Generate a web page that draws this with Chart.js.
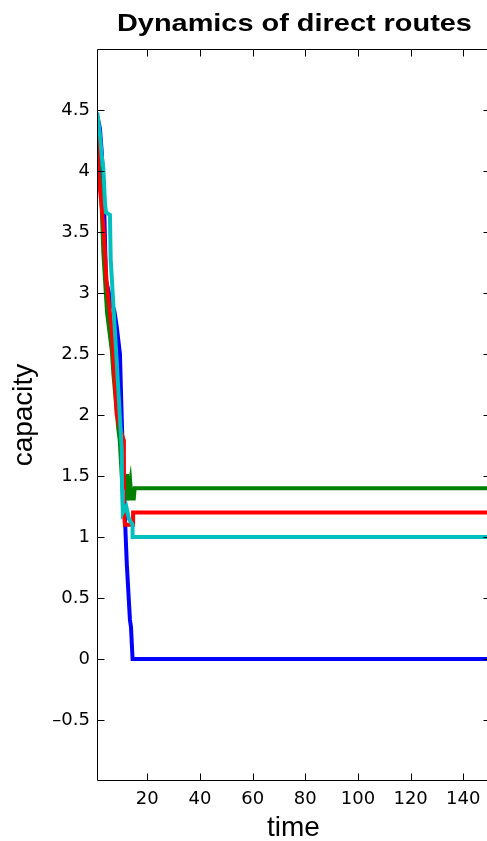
<!DOCTYPE html>
<html><head><meta charset="utf-8">
<script src="https://cdn.jsdelivr.net/npm/chart.js@4/dist/chart.umd.min.js"></script>
<style>
html,body{margin:0;padding:0;background:#fff;overflow:hidden;}
#wrap{position:relative;width:487px;height:841px;overflow:hidden;background:#fff;}
canvas{display:block;}
</style></head><body>
<div id="wrap"><canvas id="c" width="495" height="841"></canvas></div>
<script>
const titleText = 'Dynamics of direct routes';
const xTitle = 'time';
const yTitle = 'capacity';
const xTickValues = [20, 40, 60, 80, 100, 120, 140];
const yTickValues = [-0.5, 0, 0.5, 1, 1.5, 2, 2.5, 3, 3.5, 4, 4.5];

const blueTime = [1, 2, 2.7, 3.5, 4.3, 6, 7.5, 8.4, 9.6, 10.3, 11, 11.6, 12.2, 13.4, 13.8, 14.4, 150];
const blueCap  = [4.45, 4.35, 4.15, 3.8, 3.1, 2.95, 2.85, 2.72, 2.5, 1.95, 1.5, 1.1, 0.78, 0.32, 0.26, 0, 0];

const greenTime = [1, 1.3, 2.5, 3.3, 4.7, 6.5, 7.1, 9, 9.5, 10.3, 12.3, 12.4, 13.5, 14, 14.3, 14.8, 15.2, 150];
const greenCap  = [4.4, 4.1, 3.8, 3.33, 2.84, 2.53, 2.34, 1.88, 1.8, 1.5, 1.5, 1.3, 1.45, 1.3, 1.4, 1.3, 1.4, 1.4];

const redTime = [1, 1.3, 2.8, 3.3, 4.5, 5.5, 6.5, 7.7, 8.4, 9.5, 10.9, 11.1, 11.5, 14.6, 14.6, 150];
const redCap  = [4.3, 4.0, 3.68, 3.55, 3.1, 2.9, 2.7, 2.26, 2.0, 1.9, 1.8, 1.2, 1.1, 1.1, 1.2, 1.2];

const cyanTime = [1, 2, 2.7, 3.3, 3.9, 4.3, 5.8, 6.1, 8.2, 10.3, 10.4, 10.7, 12, 13, 14.4, 14.4, 150];
const cyanCap  = [4.48, 4.3, 4.12, 4.02, 3.74, 3.66, 3.64, 3.27, 2.5, 1.71, 1.39, 1.2, 1.25, 1.15, 1.1, 1.0, 1.0];

function pts(ts, vs) { return ts.map((t, i) => ({x: t, y: vs[i]})); }

const framePlugin = {
  id: 'frame',
  afterDraw(chart) {
    const {ctx, chartArea: ca, scales} = chart;
    const L = Math.round(ca.left) + 0.5, R = Math.round(ca.right) + 0.5;
    const T = Math.round(ca.top) + 0.5, B = Math.round(ca.bottom) - 0.5;
    ctx.save();
    ctx.strokeStyle = '#000';
    ctx.lineWidth = 1;
    ctx.beginPath();
    ctx.rect(L, T, R - L, B - T);
    const tl = 7;
    xTickValues.forEach(v => {
      const x = Math.round(scales.x.getPixelForValue(v)) + 0.5;
      ctx.moveTo(x, B); ctx.lineTo(x, B - tl);
      ctx.moveTo(x, T); ctx.lineTo(x, T + tl);
    });
    yTickValues.forEach(v => {
      const y = Math.round(scales.y.getPixelForValue(v)) + 0.5;
      ctx.moveTo(L, y); ctx.lineTo(L + tl, y);
      ctx.moveTo(R, y); ctx.lineTo(R - tl, y);
    });
    ctx.stroke();
    // title
    ctx.font = 'bold 24px "Liberation Sans", Arial, sans-serif';
    const w = ctx.measureText(titleText).width;
    const target = 355;
    ctx.translate((ca.left + ca.right) / 2 + 1, 31);
    ctx.scale(target / w, 1);
    ctx.fillStyle = '#000';
    ctx.textAlign = 'center';
    ctx.textBaseline = 'alphabetic';
    ctx.fillText(titleText, 0, 0);
    ctx.restore();
  }
};

const tickFont = {family: '"DejaVu Sans", sans-serif', size: 18};
const titleFont = {family: '"Liberation Sans", Arial, sans-serif', size: 28, lineHeight: 0.9};

new Chart(document.getElementById('c'), {
  type: 'line',
  data: {
    datasets: [
      {label: 'blue', data: pts(blueTime, blueCap), borderColor: '#0000ff', order: 3},
      {label: 'green', data: pts(greenTime, greenCap), borderColor: '#008000', order: 2},
      {label: 'red', data: pts(redTime, redCap), borderColor: '#ff0000', order: 1},
      {label: 'cyan', data: pts(cyanTime, cyanCap), borderColor: '#00bfbf', order: 0}
    ]
  },
  options: {
    responsive: false,
    devicePixelRatio: 1,
    animation: false,
    events: [],
    elements: {
      line: {borderWidth: 4, tension: 0, fill: false, borderJoinStyle: 'miter', borderCapStyle: 'butt'},
      point: {radius: 0}
    },
    layout: {padding: {left: 0, right: 5.4, top: 49, bottom: 0}},
    plugins: {legend: {display: false}, tooltip: {enabled: false}, title: {display: false}},
    scales: {
      x: {
        type: 'linear', position: 'bottom', min: 1, max: 150,
        afterBuildTicks: s => { s.ticks = xTickValues.map(v => ({value: v})); },
        afterFit: s => { s.height = 60; },
        ticks: {font: tickFont, color: '#000', padding: 7.6, maxRotation: 0, autoSkip: false,
                callback: v => String(v)},
        grid: {display: false, drawTicks: false},
        border: {display: false},
        title: {display: true, text: xTitle, font: titleFont, color: '#000', padding: {top: 0, bottom: 0}}
      },
      y: {
        type: 'linear', position: 'left', min: -1, max: 5,
        afterBuildTicks: s => { s.ticks = yTickValues.map(v => ({value: v})); },
        afterFit: s => { s.width = 97.3; },
        ticks: {font: tickFont, color: '#000', padding: 7.3, autoSkip: false,
                callback: v => String(v).replace('-', '\u2013')},
        grid: {display: false, drawTicks: false},
        border: {display: false},
        title: {display: true, text: yTitle, font: titleFont, color: '#000', padding: {top: 11.8, bottom: 0}}
      }
    }
  },
  plugins: [framePlugin]
});
</script>
</body></html>
